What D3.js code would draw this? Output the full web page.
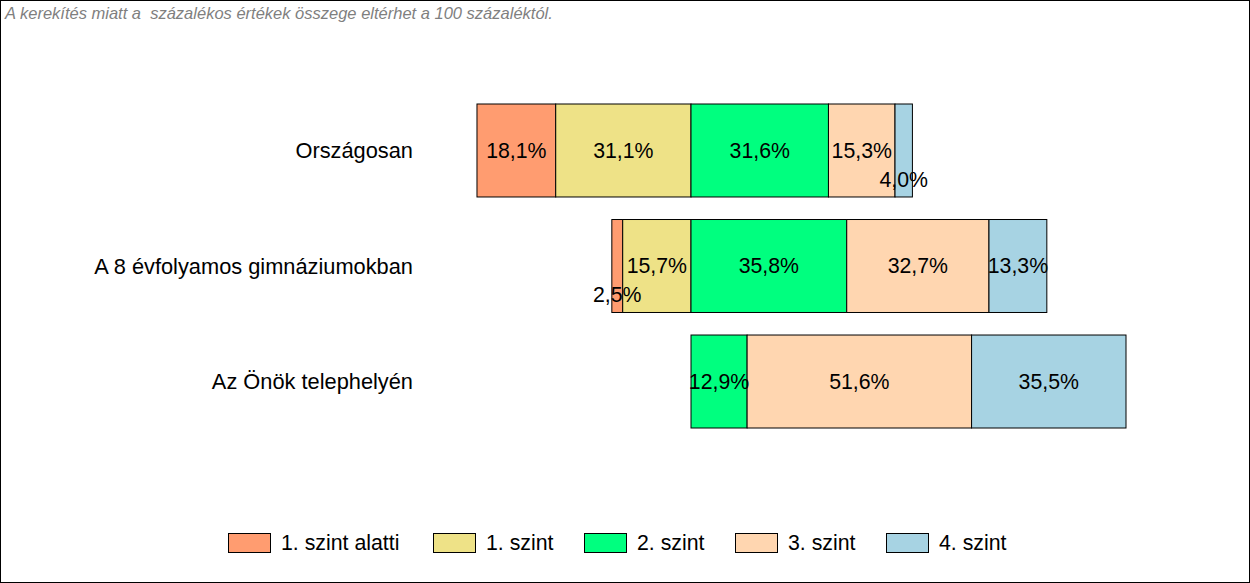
<!DOCTYPE html>
<html><head><meta charset="utf-8">
<script src="https://cdn.jsdelivr.net/npm/d3@7"></script>
<style>body{margin:0;background:#fff}svg{display:block}text{font-family:"Liberation Sans",Arial,sans-serif}</style>
</head><body>
<svg id="c" width="1250" height="583"></svg>
<script>
const categories = ["Országosan", "A 8 évfolyamos gimnáziumokban", "Az Önök telephelyén"];
const seriesNames = ["1. szint alatti", "1. szint", "2. szint", "3. szint", "4. szint"];
const belowLevel1 = [18.1, 2.5, 0];
const level1 = [31.1, 15.7, 0];
const level2 = [31.6, 35.8, 12.9];
const level3 = [15.3, 32.7, 51.6];
const level4 = [4.0, 13.3, 35.5];
const colors = ["#FF9C70", "#EEE287", "#00FF7F", "#FFD6B0", "#A7D3E3"];
const note = "A kerekítés miatt a  százalékos értékek összege eltérhet a 100 százaléktól.";

const svg = d3.select("#c");
const W = 1250, H = 583;
svg.append("rect").attr("x",0.5).attr("y",0.5).attr("width",W-1).attr("height",H-1)
  .attr("fill","#fff").attr("stroke","#000").attr("stroke-width",1);

svg.append("text").attr("x",5).attr("y",19).attr("font-size",16.5).attr("font-style","italic")
  .attr("fill","#7f7f7f").style("white-space","pre").text(note);

const x = d3.scaleLinear().domain([-50, 100]).range([691 - 50*4.35, 691 + 100*4.35]);
const y = d3.scaleBand().domain(categories).range([104, 428]).paddingInner(0.195).paddingOuter(0);

const FS = 21.3;
const series = [belowLevel1, level1, level2, level3, level4];
categories.forEach((cat, i) => {
  const vals = series.map(s => s[i]);
  let start = -(vals[0] + vals[1]);
  vals.forEach((v, k) => {
    const x0 = start, x1 = start + v;
    start = x1;
    if (v <= 0) return;
    const bx = x(x0), bw = x(x1) - x(x0);
    svg.append("rect").attr("x", bx).attr("y", y(cat)).attr("width", bw).attr("height", y.bandwidth())
      .attr("fill", colors[k]).attr("stroke", "#000").attr("stroke-width", 1);
  });
});
categories.forEach((cat, i) => {
  const vals = series.map(s => s[i]);
  let start = -(vals[0] + vals[1]);
  vals.forEach((v, k) => {
    const x0 = start, x1 = start + v;
    start = x1;
    if (v <= 0) return;
    const cy = y(cat) + y.bandwidth()/2 + (v < 5 ? 29 : 0);
    svg.append("text").attr("x", (x(x0)+x(x1))/2).attr("y", cy).attr("dy","0.35em")
      .attr("text-anchor","middle").attr("font-size",FS).attr("fill","#000")
      .text(v.toFixed(1).replace(".", ",") + "%");
  });
  svg.append("text").attr("x", 413).attr("y", y(cat) + y.bandwidth()/2).attr("dy","0.35em")
    .attr("text-anchor","end").attr("font-size",21.8).attr("fill","#000").text(cat);
});

const legendX = [228, 433, 584, 735, 886];
seriesNames.forEach((n, k) => {
  const g = svg.append("g").attr("transform", `translate(${legendX[k]},533)`);
  g.append("rect").attr("x",0.5).attr("y",0.5).attr("width",42).attr("height",19)
    .attr("fill",colors[k]).attr("stroke","#000");
  g.append("text").attr("x",53).attr("y",10).attr("dy","0.35em").attr("font-size",FS).text(n);
});
</script>
</body></html>
